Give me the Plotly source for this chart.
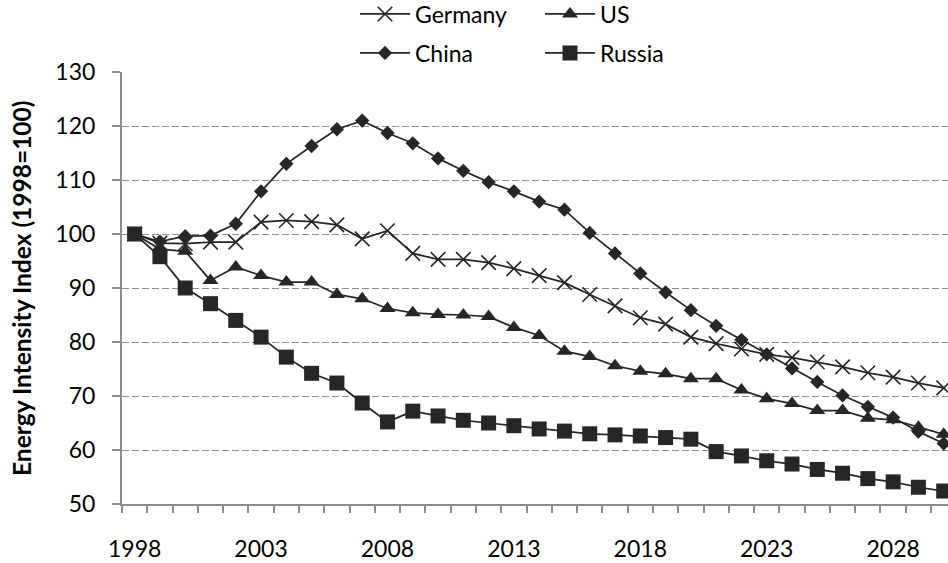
import plotly.graph_objects as go

years = list(range(1998, 2031))
germany = [100, 98.3, 98.2, 98.5, 98.5, 102.2, 102.5, 102.3, 101.7, 99.1,
           100.6, 96.4, 95.3, 95.3, 94.7, 93.6, 92.3, 91.0, 88.8, 86.7,
           84.5, 83.3, 80.9, 79.7, 78.7, 77.7, 77.1, 76.3, 75.4, 74.3,
           73.5, 72.4, 71.5]
us = [100, 97.2, 96.8, 91.4, 93.9, 92.3, 91.1, 91.1, 88.8, 88.0,
      86.2, 85.4, 85.1, 85.0, 84.7, 82.7, 81.2, 78.3, 77.3, 75.6,
      74.6, 74.1, 73.2, 73.2, 71.1, 69.5, 68.6, 67.3, 67.3, 65.9,
      65.6, 64.2, 62.9]
china = [100, 98.6, 99.6, 99.7, 101.9, 107.9, 113.0, 116.3, 119.4, 121.0,
         118.7, 116.8, 114.0, 111.7, 109.6, 107.9, 106.0, 104.5, 100.2, 96.4,
         92.7, 89.2, 85.9, 83.0, 80.4, 77.7, 75.1, 72.6, 70.1, 68.0,
         66.0, 63.4, 61.2]
russia = [100, 95.8, 90.0, 87.1, 84.0, 80.9, 77.2, 74.2, 72.4, 68.7,
          65.2, 67.2, 66.3, 65.5, 65.0, 64.5, 63.9, 63.5, 63.0, 62.8,
          62.6, 62.3, 62.0, 59.7, 58.9, 58.0, 57.4, 56.4, 55.7, 54.7,
          54.1, 53.1, 52.4]
x_tick_vals = [1998, 2003, 2008, 2013, 2018, 2023, 2028]
x_tick_text = ["1998", "2003", "2008", "2013", "2018", "2023", "2028"]
y_tick_vals = [50, 60, 70, 80, 90, 100, 110, 120, 130]

INK = "#262626"
GRID = "#8c8c8c"
FONT = "Lato"

fig = go.Figure()
fig.add_trace(go.Scatter(x=years, y=germany, name="Germany", mode="lines+markers",
                         line=dict(color=INK, width=1.75),
                         marker=dict(symbol="x-thin", size=14.5, color=INK,
                                     line=dict(color=INK, width=1.6)),
                         legend="legend"))
fig.add_trace(go.Scatter(x=years, y=us, name="US", mode="lines+markers",
                         line=dict(color=INK, width=1.75),
                         marker=dict(symbol="triangle-up", size=14, color=INK),
                         legend="legend"))
fig.add_trace(go.Scatter(x=years, y=china, name="China", mode="lines+markers",
                         line=dict(color=INK, width=1.75),
                         marker=dict(symbol="diamond", size=11, color=INK),
                         legend="legend2"))
fig.add_trace(go.Scatter(x=years, y=russia, name="Russia", mode="lines+markers",
                         line=dict(color=INK, width=1.75),
                         marker=dict(symbol="square", size=15, color=INK),
                         legend="legend2"))

L, R, T, B = 122, 0, 72, 59
W, H = 948, 563
pw = W - L - R
ph = H - T - B

def px_to_paper_x(px):
    return (px - L) / pw

def px_to_paper_y(py):
    return (H - B - py) / ph

legend_common = dict(orientation="h", entrywidth=120, entrywidthmode="pixels",
                     itemwidth=50, font=dict(family=FONT, size=23, color="#000000"),
                     bgcolor="rgba(0,0,0,0)", xanchor="left", yanchor="middle",
                     xref="paper", yref="paper", tracegroupgap=0)

fig.update_layout(
    template="none",
    width=W, height=H,
    margin=dict(l=L, r=R, t=T, b=B, pad=0, autoexpand=False),
    paper_bgcolor="white", plot_bgcolor="white",
    font=dict(family=FONT, size=23, color="#000000"),
    showlegend=True,
    legend=dict(**legend_common, x=px_to_paper_x(355), y=px_to_paper_y(14)),
    legend2=dict(**legend_common, x=px_to_paper_x(355), y=px_to_paper_y(53)),
    xaxis=dict(range=[1997.5, 2030.17], tickmode="array", tickvals=x_tick_vals,
               ticktext=x_tick_text, ticks="", showgrid=False, zeroline=False,
               automargin=False,
               showline=True, linecolor=GRID, linewidth=2,
               ticklabelstandoff=23,
               tickfont=dict(family=FONT, size=23, color="#000000"),
               minor=dict(tickmode="linear", tick0=1997.5, dtick=1, ticks="outside",
                          ticklen=7, tickwidth=1.5, tickcolor=GRID, showgrid=False)),
    yaxis=dict(range=[50, 130], tickmode="array", tickvals=y_tick_vals,
               ticks="outside", ticklen=8, tickwidth=1.5, tickcolor=GRID,
               showgrid=True, gridcolor=GRID, gridwidth=1, griddash="7px,3px",
               zeroline=False, showline=True, linecolor=GRID, linewidth=2,
               automargin=False,
               ticklabelstandoff=12,
               tickfont=dict(family=FONT, size=23, color="#000000")),
    annotations=[dict(text="<b>Energy Intensity Index (1998=100)</b>",
                      xref="paper", yref="paper", x=0, y=0.5, xshift=21 - L,
                      xanchor="center", yanchor="middle", textangle=-90,
                      showarrow=False,
                      font=dict(family=FONT, size=24.5, color="#000000"))],
)

fig.write_html("out.html", config={"displayModeBar": False},
               post_script="document.body.style.margin='0';")
